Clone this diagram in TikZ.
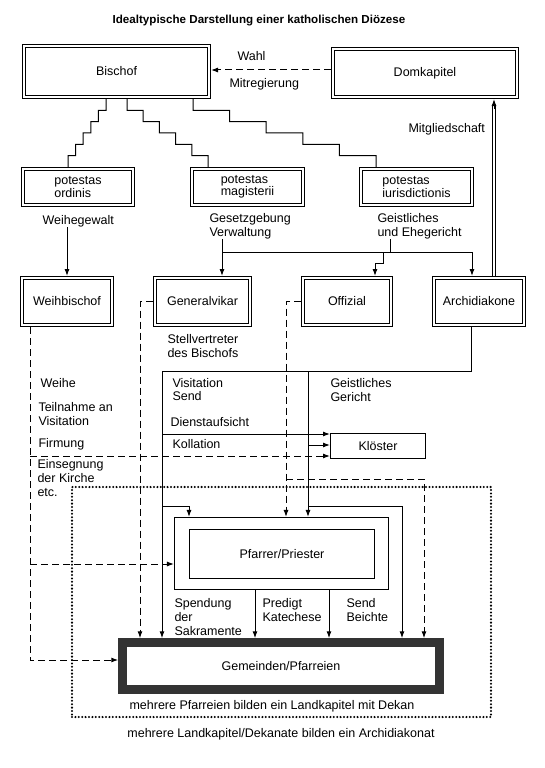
\documentclass[tikz,border=0pt]{standalone}
\usepackage{fontspec}
\setmainfont{Liberation Sans}
\usetikzlibrary{arrows.meta,positioning}

\tikzset{
  box/.style={draw, double, double distance=2.1pt, line width=0.9pt,
    outer sep=2pt, inner sep=2pt, align=left},
  lbl/.style={inner sep=0pt, align=left, anchor=base west},
  arr/.style={-{Latex[length=7pt,width=5pt]}},
  dsh/.style={dash pattern=on 7pt off 4pt},
  dbl/.style={line width=0.8pt, double, double distance=2.3pt},
  punkte/.style={line width=2.3pt, dash pattern=on 0pt off 3.4pt, line cap=round},
}

\begin{document}
\begin{tikzpicture}[x=1pt,y=-1pt,line width=1pt,
  every node/.style={font=\fontsize{12.5}{14}\selectfont}]
\useasboundingbox (0,0) rectangle (545,768);

\node[font=\bfseries\fontsize{11.6}{14}\selectfont] (titel) at (259,21)
  {Idealtypische Darstellung einer katholischen Diözese};

% Bereich Archidiakonat
\node[punkte, draw, inner sep=0pt, minimum width=419pt, minimum height=230pt] (Kapitel) at (281.5,602) {};

\begin{scope}[every node/.append style={box}]
\node[minimum width=185pt, minimum height=51pt] (Bischof) at (116.5,71.5) {Bischof};
\node[minimum width=184pt, minimum height=48pt] (Domkapitel) at (425,73) {Domkapitel};
\node[minimum width=110pt, minimum height=36pt, font=\fontsize{12.5}{12.5}\selectfont] (ordinis) at (78,187) {potestas\\ordinis};
\node[minimum width=111pt, minimum height=36pt, font=\fontsize{12.5}{12.5}\selectfont] (magisterii) at (247.5,187) {potestas\\magisterii};
\node[minimum width=111pt, minimum height=36pt, font=\fontsize{12.5}{12.5}\selectfont] (iurisdictionis) at (416.5,187) {potestas\\iurisdictionis};
\node[minimum width=90pt, minimum height=47pt] (Weihbischof) at (67,301.5) {Weihbischof};
\node[minimum width=95pt, minimum height=47pt] (Generalvikar) at (202.5,301.5) {Generalvikar};
\node[minimum width=88pt, minimum height=47pt] (Offizial) at (347,301.5) {Offizial};
\node[minimum width=90pt, minimum height=47pt] (Archidiakone) at (479,301.5) {Archidiakone};
\end{scope}

\node[draw, line width=1.3pt, outer sep=0.65pt, minimum width=94.7pt, minimum height=24.7pt] (Kloester) at (378,446) {Klöster};
\node[draw, line width=1.1pt, outer sep=0.55pt, minimum width=214pt, minimum height=72pt] (PfarrerRahmen) at (281.5,553.5) {};
\node[draw, line width=1.2pt, minimum width=185pt, minimum height=49pt] (Pfarrer) at (282,554) {Pfarrer/Priester};
\node[draw=black!80, line width=9pt, outer sep=4.5pt, minimum width=316.5pt, minimum height=46.5pt] (Gemeinden) at (281,666) {Gemeinden/Pfarreien};

% Beschriftungen (base = letzte Zeile)
\node[lbl] (lWahl) at (237,61) {Wahl};
\node[lbl] (lMitreg) at (229,87) {Mitregierung};
\node[lbl] (lMitglied) at (408,132) {Mitgliedschaft};
\node[lbl] (lWeihegewalt) at (42,224) {Weihegewalt};
\node[lbl] (lGesetz) at (209,236) {Gesetzgebung\\Verwaltung};
\node[lbl] (lGeist) at (377,236) {Geistliches\\und Ehegericht};
\node[lbl] (lStellv) at (167,357) {Stellvertreter\\des Bischofs};
\node[lbl] (lWeihe) at (40,387) {Weihe};
\node[lbl] (lTeilnahme) at (38,425) {Teilnahme an\\Visitation};
\node[lbl] (lFirmung) at (38,447) {Firmung};
\node[lbl] (lEinsegnung) at (37,496) {Einsegnung\\der Kirche\\etc.};
\node[lbl, font=\fontsize{12.5}{13}\selectfont] (lVisitation) at (172,400) {Visitation\\Send};
\node[lbl] (lDienst) at (170,426) {Dienstaufsicht};
\node[lbl] (lKollation) at (172,448) {Kollation};
\node[lbl] (lGericht) at (330,401) {Geistliches\\Gericht};
\node[lbl] (lSpendung) at (174,635) {Spendung\\der\\Sakramente};
\node[lbl] (lPredigt) at (262,621) {Predigt\\Katechese};
\node[lbl] (lSend) at (346,621) {Send\\Beichte};
\node (lDekan) at (272,706) {mehrere Pfarreien bilden ein Landkapitel mit Dekan};
\node (lArchi) at (281,734) {mehrere Landkapitel/Dekanate bilden ein Archidiakonat};

% Wahl / Mitregierung
\draw[dsh, arr] ([yshift=3pt]Domkapitel.west) -- ([yshift=3pt]Domkapitel.west -| Bischof.east);

% Treppen
\draw ([xshift=-10.5pt]Bischof.south) \foreach \i in {1,...,5} {-- ++(0,11.33) -- ++(-7.6,0)} -- ([xshift=-10pt]ordinis.north);
\draw ([xshift=10.5pt]Bischof.south) \foreach \i in {1,...,5} {-- ++(0,11.33) -- ++(16.2,0)} -- ([xshift=-39.5pt]magisterii.north);
\draw ([xshift=76.5pt]Bischof.south) \foreach \i in {1,...,5} {-- ++(0,11.33) -- ++(36.6,0)} -- ([xshift=-40.5pt]iurisdictionis.north);

% Gewalten
\draw[arr] (lWeihegewalt.south -| Weihbischof.north) -- (Weihbischof.north);
\coordinate (gv) at (222,252);
\coordinate (og) at (383,252);
\coordinate (ge) at (390,252);
\draw[arr] (gv |- lGesetz.south) -- (gv |- Generalvikar.north);
\draw[arr] (gv) -| ([xshift=-7pt]Archidiakone.north);
\draw (ge |- lGeist.south) -- (ge);
\draw[arr] (og) -- ++(0,11) -| ([xshift=28pt]Offizial.north);

% Mitgliedschaft
\path ([xshift=15pt]Archidiakone.north) coordinate (mgUnten);
\coordinate (mgOben) at (mgUnten |- Domkapitel.south);
\draw[dbl, shorten >=6pt] (mgUnten) -- (mgOben);
\draw[arr] ([yshift=-10pt]mgOben) -- (mgOben);

% Archidiakone
\coordinate (aL) at (162,371);
\coordinate (aR) at (308,371);
\coordinate (v1) at (0,506);
\coordinate (k1) at ([yshift=12pt]Kloester.west);
\coordinate (k2) at ([yshift=1pt]Kloester.west);
\coordinate (k3) at ([yshift=-10pt]Kloester.west);
\draw ([xshift=-8pt]Archidiakone.south) |- (aL);
\draw[arr] (aL) -- (aL |- Gemeinden.north);
\draw[arr] (aR) -- (aR |- PfarrerRahmen.north);
\draw[arr] (aL |- k1) -- (k1);
\draw[arr] (aR |- k2) -- (k2);
\draw[arr] (aL |- v1) -| ([xshift=-92.5pt]PfarrerRahmen.north);
\draw[arr] (aR |- v1) -| ([xshift=121pt]Gemeinden.north);

% Pfarrer -> Gemeinden
\path ([xshift=-26.5pt]PfarrerRahmen.south) coordinate (p1);
\path ([xshift=47.5pt]PfarrerRahmen.south) coordinate (p2);
\draw[arr] (p1) -- (p1 |- Gemeinden.north);
\draw[arr] (p2) -- (p2 |- Gemeinden.north);

% Weihbischof
\path ([xshift=-37pt]Weihbischof.south) coordinate (wb);
\coordinate (pw) at ([yshift=-10.5pt]PfarrerRahmen.west);
\draw[dsh, arr] (wb) |- ([yshift=6pt]Gemeinden.west);
\draw[dsh, arr] (wb |- k3) -- (k3);
\draw[dsh, arr] (wb |- pw) -- (pw);

% Generalvikar, Offizial
\draw[dsh, arr] (Generalvikar.west) -| ([xshift=-141pt]Gemeinden.north);
\path ([xshift=4.5pt]PfarrerRahmen.north) coordinate (ofz);
\coordinate (y479) at (0,479);
\draw[dsh, arr] (Offizial.west) -| (ofz);
\draw[dsh, arr] (ofz |- y479) -| ([xshift=143pt]Gemeinden.north);
\end{tikzpicture}
\end{document}
